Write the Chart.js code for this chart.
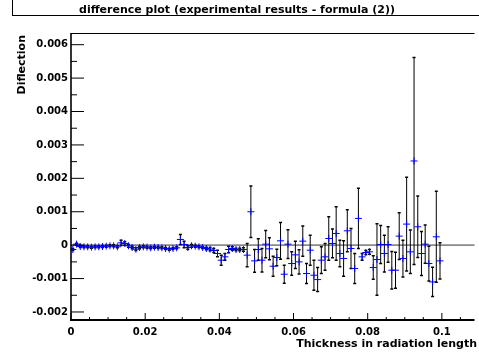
<!DOCTYPE html>
<html><head><meta charset="utf-8">
<script src="https://cdn.jsdelivr.net/npm/chart.js@4.4.0/dist/chart.umd.min.js"></script>
<style>html,body{margin:0;padding:0;background:#fff;}canvas{display:block;}</style>
</head><body>
<canvas id="c" width="479" height="358" style="width:479px;height:358px"></canvas>
<script>
const chartTitle = 'difference plot (experimental results - formula (2))';
const xTitle = 'Thickness in radiation length';
const yTitle = 'Diflection';

const thickness = [
0.0005,0.0015,0.0025,0.0035,0.0045,0.0055,0.0065,0.0075,0.0085,0.0095,
0.0105,0.0115,0.0125,0.0135,0.0145,0.0155,0.0165,0.0175,0.0185,0.0195,
0.0205,0.0215,0.0225,0.0235,0.0245,0.0255,0.0265,0.0275,0.0285,0.0295,
0.0305,0.0315,0.0325,0.0335,0.0345,0.0355,0.0365,0.0375,0.0385,0.0395,
0.0405,0.0415,0.0425,0.0435,0.0445,0.0455,0.0465,0.0475,0.0485,0.0495,
0.0505,0.0515,0.0525,0.0535,0.0545,0.0555,0.0565,0.0575,0.0585,0.0595,
0.0605,0.0615,0.0625,0.0635,0.0645,0.0655,0.0665,0.0675,0.0685,0.0695,
0.0705,0.0715,0.0725,0.0735,0.0745,0.0755,0.0765,0.0775,0.0785,0.0795,
0.0805,0.0815,0.0825,0.0835,0.0845,0.0855,0.0865,0.0875,0.0885,0.0895,
0.0905,0.0915,0.0925,0.0935,0.0945,0.0955,0.0965,0.0975,0.0985,0.0995];

const deflection = [
-0.00013,0.00003,-0.00004,-0.00005,-0.00005,-0.00006,-0.00005,-0.00005,-0.00004,-0.00003,
-0.00002,-0.00002,-0.00005,0.00007,0.00005,-0.00002,-0.00007,-0.00012,-0.00007,-0.00005,
-0.00006,-0.00008,-0.00006,-0.00007,-0.00008,-0.0001,-0.00012,-0.0001,-0.00008,0.00017,
0.00002,-0.00007,-0.00002,-0.00003,-0.00005,-0.00007,-0.0001,-0.00012,-0.00016,-0.00025,
-0.00045,-0.00035,-0.00013,-0.0001,-0.00013,-0.00013,-0.00013,-0.0003,0.001,-0.00047,
-0.00013,-0.00045,0.00003,-0.00011,-0.00063,-0.00037,0.00013,-0.00087,0.00003,-0.00055,
-0.00029,-0.0005,0.00012,-0.00085,-0.00015,-0.0009,-0.00103,-0.00045,-0.00035,0.0002,
0.00005,0.00035,-0.00025,-0.0004,0.00043,-0.0001,-0.0007,0.0008,-0.00035,-0.00022,
-0.0002,-0.00067,-0.00043,0.00002,-0.00025,0.00002,-0.00075,-0.00075,0.00027,-0.0004,
0.00063,-0.0002,0.00252,0.00055,-0.00025,0.00003,-0.00055,-0.0011,0.00025,-0.00047];

const deflectionError = [
0.00003,0.00003,0.00003,0.00003,0.00003,0.00003,0.00003,0.00003,0.00003,0.00003,
0.00003,0.00003,0.00003,0.00008,0.00005,0.00004,0.00004,0.00004,0.00004,0.00003,
0.00003,0.00003,0.00003,0.00003,0.00003,0.00003,0.00003,0.00003,0.00003,0.00015,
0.0001,0.00005,0.00004,0.00003,0.00003,0.00003,0.00004,0.00005,0.00006,0.0001,
0.00015,0.0001,0.0001,0.00005,0.00004,0.00004,0.00005,0.00035,0.00077,0.00034,
0.00032,0.00035,0.00041,0.00033,0.0003,0.00025,0.00055,0.00027,0.00043,0.00035,
0.00041,0.00036,0.00045,0.0003,0.00045,0.00045,0.00036,0.0004,0.0004,0.00065,
0.00043,0.0008,0.0004,0.00053,0.00063,0.0006,0.00045,0.0009,0.0001,0.00006,
0.00007,0.00035,0.00107,0.00057,0.00055,0.00053,0.00056,0.00054,0.0007,0.00055,
0.0014,0.00065,0.0031,0.00092,0.00066,0.00057,0.00052,0.00044,0.00136,0.00054];

const xTickValues = [0, 0.02, 0.04, 0.06, 0.08, 0.1];
const xTickLabels = ['0', '0.02', '0.04', '0.06', '0.08', '0.1'];
const yTickValues = [-0.002, -0.001, 0, 0.001, 0.002, 0.003, 0.004, 0.005, 0.006];
const yTickLabels = ['-0.002', '-0.001', '0', '0.001', '0.002', '0.003', '0.004', '0.005', '0.006'];
const xRange = [0, 0.1088];
const yRange = [-0.00227, 0.00635];
const xMinorStep = 0.005;
const yMinorStep = 0.0005;

const FONT = 'DejaVu Sans';

const rootStyle = {
  id: 'rootStyle',
  beforeDatasetsDraw(chart) {
    const {ctx, chartArea: a, scales: {x, y}} = chart;
    ctx.save();
    const y0 = y.getPixelForValue(0);
    ctx.strokeStyle = '#8a8a8a';
    ctx.lineWidth = 1.6;
    ctx.beginPath(); ctx.moveTo(a.left, y0); ctx.lineTo(a.right, y0); ctx.stroke();
    ctx.strokeStyle = '#000';
    for (let i = 0; i < thickness.length; i++) {
      const px = x.getPixelForValue(thickness[i]);
      const t = y.getPixelForValue(deflection[i] + deflectionError[i]);
      const b = y.getPixelForValue(deflection[i] - deflectionError[i]);
      ctx.lineWidth = 1;
      ctx.beginPath(); ctx.moveTo(px, t); ctx.lineTo(px, b); ctx.stroke();
      ctx.lineWidth = 1.5;
      ctx.beginPath();
      ctx.moveTo(px - 1.5, t); ctx.lineTo(px + 1.5, t);
      ctx.moveTo(px - 1.5, b); ctx.lineTo(px + 1.5, b);
      ctx.stroke();
    }
    ctx.restore();
  },
  afterDraw(chart) {
    const {ctx, chartArea: a, scales: {x, y}} = chart;
    ctx.save();
    ctx.strokeStyle = '#000';
    // frame
    ctx.lineWidth = 1;
    ctx.beginPath(); ctx.moveTo(a.left, a.top + 0.5); ctx.lineTo(a.right, a.top + 0.5); ctx.stroke();
    ctx.lineWidth = 1.6;
    ctx.beginPath(); ctx.moveTo(a.left, a.top); ctx.lineTo(a.left, a.bottom); ctx.stroke();
    ctx.lineWidth = 2;
    ctx.beginPath(); ctx.moveTo(a.left - 1, a.bottom - 1); ctx.lineTo(a.right, a.bottom - 1); ctx.stroke();
    // y ticks
    ctx.lineWidth = 1;
    ctx.beginPath();
    yTickValues.forEach(v => { const py = y.getPixelForValue(v); ctx.moveTo(a.left, py); ctx.lineTo(a.left + 13, py); });
    for (let v = yTickValues[0] - yMinorStep; v < yRange[1]; v += 2 * yMinorStep) {
      if (v < yRange[0]) continue;
      const py = y.getPixelForValue(v); ctx.moveTo(a.left, py); ctx.lineTo(a.left + 6, py);
    }
    xTickValues.forEach(v => { const px = x.getPixelForValue(v); ctx.moveTo(px, a.bottom); ctx.lineTo(px, a.bottom - 8); });
    for (let k = 1; xRange[0] + k * xMinorStep < xRange[1]; k++) {
      if (k % 4 === 0) continue;
      const px = x.getPixelForValue(xRange[0] + k * xMinorStep); ctx.moveTo(px, a.bottom); ctx.lineTo(px, a.bottom - 4);
    }
    ctx.stroke();
    // title box
    ctx.lineWidth = 1;
    ctx.strokeRect(12.5, -1.5, 480, 17);
    ctx.fillStyle = '#000';
    ctx.font = 'bold 11px "' + FONT + '"';
    ctx.textAlign = 'center'; ctx.textBaseline = 'alphabetic';
    ctx.fillText(chartTitle, 237, 13);
    // axis titles
    ctx.textAlign = 'right';
    ctx.fillText(xTitle, 477, 346.5);
    ctx.translate(25, 35);
    ctx.rotate(-Math.PI / 2);
    ctx.fillText(yTitle, 0, 0);
    ctx.restore();
  }
};

new Chart(document.getElementById('c'), {
  type: 'scatter',
  data: {
    datasets: [{
      data: thickness.map((t, i) => ({x: t, y: deflection[i]})),
      pointStyle: 'cross',
      pointRadius: 3.5,
      pointHoverRadius: 3.5,
      borderColor: '#0000ff',
      backgroundColor: '#0000ff',
      borderWidth: 1,
      showLine: false
    }]
  },
  options: {
    responsive: false,
    animation: false,
    devicePixelRatio: 1,
    events: [],
    layout: {padding: {top: 33, left: 0, right: 0, bottom: 0}},
    plugins: {legend: {display: false}, title: {display: false}, tooltip: {enabled: false}},
    scales: {
      x: {
        type: 'linear', min: xRange[0], max: xRange[1],
        afterBuildTicks: s => { s.ticks = xTickValues.map(v => ({value: v})); },
        afterFit: s => { s.height = 37; },
        grid: {display: false, drawTicks: false},
        border: {display: false},
        ticks: {
          callback: (v, i) => xTickLabels[i],
          font: {family: FONT, weight: 'bold', size: 10},
          color: '#000', padding: 5, maxRotation: 0, autoSkip: false
        }
      },
      y: {
        type: 'linear', min: yRange[0], max: yRange[1],
        afterBuildTicks: s => { s.ticks = yTickValues.map(v => ({value: v})); },
        afterFit: s => { s.width = 71; },
        grid: {display: false, drawTicks: false},
        border: {display: false},
        ticks: {
          callback: (v, i) => yTickLabels[i],
          font: {family: FONT, weight: 'bold', size: 10},
          color: '#000', padding: 3, autoSkip: false
        }
      }
    }
  },
  plugins: [rootStyle]
});
</script>
</body></html>
